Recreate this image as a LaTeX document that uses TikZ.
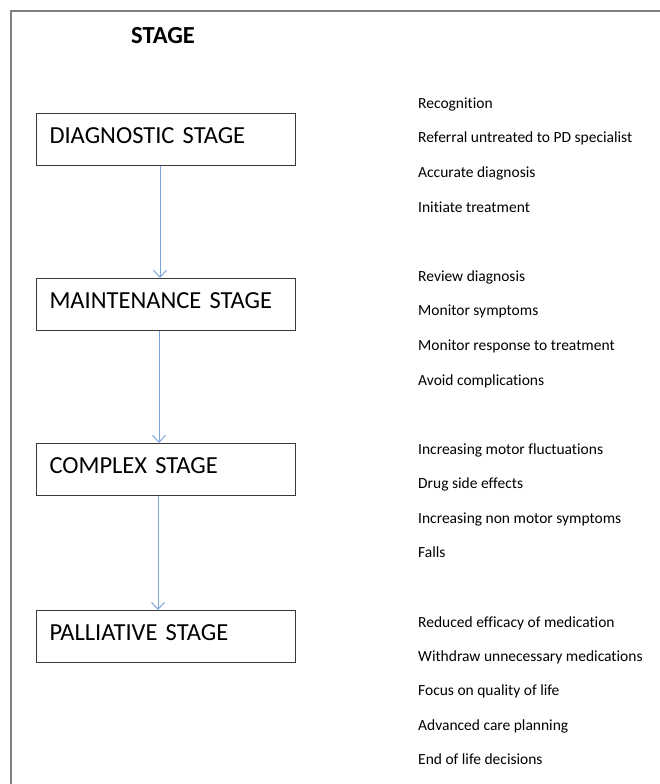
\documentclass[tikz,border=0pt]{standalone}
\usepackage{fontspec}
\setmainfont{Carlito}[Ligatures=NoCommon]
\usetikzlibrary{arrows.meta}
\definecolor{frameg}{HTML}{7F7F7F}
\definecolor{arrowb}{HTML}{7BA4D8}
\definecolor{boxline}{HTML}{3A3A3A}
\tikzset{
  stagebox/.style={draw=boxline, line width=1pt, anchor=north west, minimum width=259pt, minimum height=52pt,
    text width=233pt, align=left, inner xsep=13pt, inner ysep=0pt, font=\fontsize{24.5}{26}\selectfont,
    text height=16pt, text depth=8pt},
  item/.style={anchor=base west, inner sep=0pt, font=\fontsize{15.5}{17}\selectfont},
  flow/.style={draw=arrowb, line width=1pt, -{Straight Barb[length=7pt,width=13pt]}},
}
\begin{document}
\begin{tikzpicture}[x=1pt,y=-1pt]
\useasboundingbox (0,0) rectangle (660,784);
\draw[frameg, line width=1.6pt] (11,784) -- (11,11) -- (660,11);
\node[anchor=base west, inner sep=0pt, font=\fontsize{24.5}{26}\selectfont\bfseries] (title) at (131,44) {STAGE};

\node[stagebox] (diag) at (36,113) {DIAGNOSTIC STAGE};
\node[stagebox] (maint) at (36,278) {MAINTENANCE STAGE};
\node[stagebox] (comp) at (36,443) {COMPLEX STAGE};
\node[stagebox] (pall) at (36,610) {PALLIATIVE STAGE};

\coordinate (d1) at (160,165.5);
\coordinate (m0) at (160,278);
\coordinate (m1) at (159,330.5);
\coordinate (c0) at (159,443);
\coordinate (c1) at (158,495.5);
\coordinate (p0) at (158,610);
\draw[flow] (diag.south -| d1) -- (maint.north -| m0);
\draw[flow] (maint.south -| m1) -- (comp.north -| c0);
\draw[flow] (comp.south -| c1) -- (pall.north -| p0);

\node[item] (a1) at (418,108) {Recognition};
\node[item] (a2) at (418,142.5) {Referral untreated to PD specialist};
\node[item] (a3) at (418,177) {Accurate diagnosis};
\node[item] (a4) at (418,212) {Initiate treatment};

\node[item] (b1) at (418,281.5) {Review diagnosis};
\node[item] (b2) at (418,315.5) {Monitor symptoms};
\node[item] (b3) at (418,350) {Monitor response to treatment};
\node[item] (b4) at (418,385) {Avoid complications};

\node[item] (c1t) at (418,454.5) {Increasing motor fluctuations};
\node[item] (c2t) at (418,488.5) {Drug side effects};
\node[item] (c3t) at (418,523.5) {Increasing non motor symptoms};
\node[item] (c4t) at (418,557.5) {Falls};

\node[item] (p1t) at (418,627) {Reduced efficacy of medication};
\node[item] (p2t) at (418,661) {Withdraw unnecessary medications};
\node[item] (p3t) at (418,695.5) {Focus on quality of life};
\node[item] (p4t) at (418,730) {Advanced care planning};
\node[item] (p5t) at (418,764.5) {End of life decisions};
\end{tikzpicture}
\end{document}
